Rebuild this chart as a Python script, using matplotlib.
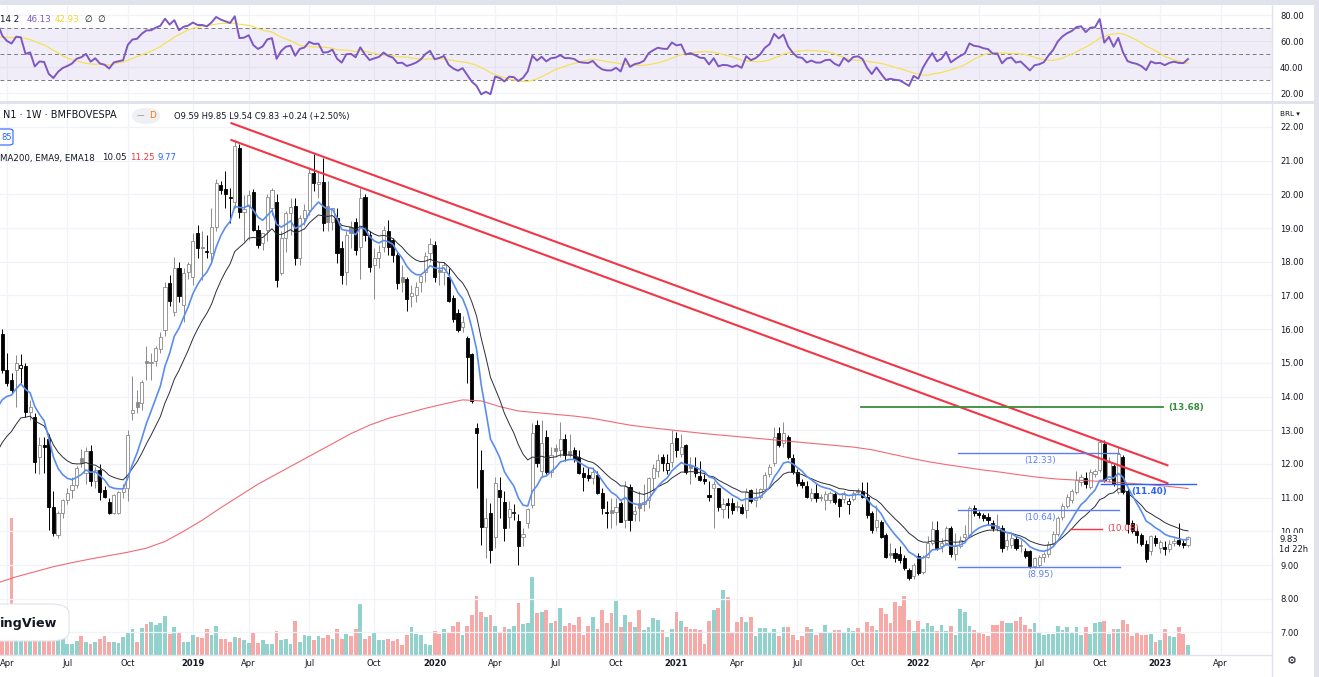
import matplotlib
matplotlib.use("Agg")
import matplotlib.pyplot as plt
import matplotlib.dates as mdates
from matplotlib.patches import Rectangle, FancyBboxPatch
import numpy as np
import pandas as pd

plt.rcParams["font.family"] = ["DejaVu Sans"]

W, H = 1319, 677

# ---- data (weekly bars) ----
first_week = "2018-03-19"
prior_close = 14.9

opens = [
    14.9, 15.85, 14.8, 14.5, 14.8, 14.85, 14.9, 13.55, 13.4, 12.22,
    12.56, 12.75, 10.73, 9.9, 10.54, 10.93, 11.23, 11.38, 12.17, 11.72,
    12.37, 11.48, 11.82, 11.23, 10.88, 10.54, 10.54, 11.18, 11.28, 13.5,
    13.85, 13.8, 15.05, 15.0, 15.04, 15.4, 15.98, 17.36, 16.52, 17.81,
    16.72, 17.7, 17.56, 18.85, 18.42, 18.32, 18.25, 19.04, 20.28, 20.15,
    19.92, 19.78, 21.37, 19.49, 19.64, 20.08, 18.94, 18.55, 18.94, 19.6,
    19.78, 17.66, 18.7, 19.44, 19.64, 18.1, 19.29, 19.54, 20.62, 20.3,
    20.38, 19.64, 19.19, 19.29, 18.4, 17.7, 19.04, 19.19, 18.45, 19.93,
    18.8, 17.9, 18.1, 18.45, 18.9, 18.65, 18.2, 17.56, 17.5, 16.98,
    17.0, 17.41, 17.7, 18.25, 18.5, 17.75, 17.7, 17.56, 16.92, 16.47,
    16.07, 15.73, 15.25, 13.08, 11.82, 10.14, 10.54, 9.84, 11.23, 10.88,
    10.42, 10.55, 10.32, 9.82, 10.24, 10.78, 13.16, 11.79, 12.79, 11.77,
    12.46, 12.42, 12.73, 12.37, 12.42, 12.22, 11.72, 11.67, 11.57, 11.67,
    11.13, 10.55, 10.63, 10.58, 10.83, 10.34, 11.31, 10.51, 10.83, 10.81,
    10.93, 11.57, 11.8, 12.22, 11.82, 12.07, 12.76, 12.3, 12.56, 11.97,
    11.92, 11.64, 11.55, 11.08, 11.28, 11.28, 10.65, 10.83, 10.83, 10.74,
    10.72, 10.63, 11.24, 10.93, 11.03, 11.25, 11.7, 12.02, 12.91, 12.61,
    12.81, 12.17, 11.77, 11.46, 11.35, 10.98, 11.13, 11.03, 10.93, 10.93,
    11.11, 10.95, 10.95, 10.81, 10.95, 11.21, 11.21, 11.03, 10.54, 10.14,
    10.29, 9.89, 9.35, 9.35, 9.33, 9.2, 8.86, 8.66, 9.27, 8.78,
    9.25, 9.65, 10.04, 9.55, 9.65, 10.09, 9.33, 9.55, 9.84, 9.89,
    10.68, 10.53, 10.49, 10.42, 10.24, 10.16, 10.09, 9.55, 9.6, 9.76,
    9.6, 9.42, 9.42, 8.97, 9.0, 9.23, 9.33, 9.63, 9.91, 10.43,
    10.76, 10.93, 11.16, 11.46, 11.59, 11.31, 11.7, 11.81, 12.6, 11.56,
    11.93, 11.16, 12.2, 11.21, 10.26, 10.01, 9.89, 9.63, 9.41, 9.81,
    9.51, 9.54, 9.47, 9.66, 9.73, 9.64, 9.59,
]
highs = [
    15.95, 16.0, 15.3, 14.7, 15.23, 15.25, 15.0, 13.9, 13.5, 12.8,
    12.8, 12.9, 11.2, 10.6, 10.95, 11.3, 11.6, 11.93, 12.45, 12.5,
    12.56, 11.9, 12.0, 11.33, 11.0, 11.1, 11.2, 11.4, 13.0, 14.6,
    14.2, 14.5, 15.5, 15.3, 15.5, 15.9, 17.4, 17.6, 18.15, 18.0,
    17.8, 18.0, 18.85, 19.1, 18.9, 18.8, 19.6, 20.45, 20.4, 20.7,
    20.2, 21.61, 21.5, 19.98, 20.13, 20.15, 19.1, 18.85, 20.0, 20.2,
    20.0, 18.9, 19.5, 19.9, 19.9, 19.4, 19.7, 20.8, 21.2, 20.7,
    21.07, 20.4, 19.6, 19.6, 18.6, 18.9, 19.2, 19.3, 20.2, 20.0,
    18.9, 18.4, 18.5, 19.05, 19.25, 18.7, 18.3, 17.9, 17.55, 17.3,
    17.4, 17.6, 18.3, 18.7, 18.6, 18.0, 18.0, 17.8, 17.0, 16.6,
    16.4, 15.8, 15.3, 13.2, 12.4, 11.0, 10.83, 11.6, 11.6, 11.2,
    10.9, 10.8, 10.5, 10.1, 10.7, 13.2, 13.3, 13.3, 13.0, 12.5,
    12.6, 13.25, 12.9, 12.9, 12.5, 12.4, 11.9, 11.9, 11.9, 11.8,
    11.3, 10.9, 11.0, 11.0, 10.9, 11.5, 11.4, 10.75, 11.2, 11.4,
    11.6, 12.0, 12.3, 12.3, 12.3, 13.0, 12.95, 12.9, 12.6, 12.2,
    12.2, 12.1, 11.7, 11.5, 11.5, 11.3, 11.0, 11.0, 11.0, 10.9,
    10.8, 11.3, 11.27, 11.3, 11.3, 11.75, 12.0, 13.1, 13.1, 13.25,
    12.85, 12.3, 11.85, 11.55, 11.5, 11.3, 11.4, 11.1, 11.2, 11.2,
    11.2, 11.0, 11.2, 11.0, 11.2, 11.3, 11.45, 11.45, 10.6, 10.78,
    10.35, 9.95, 9.65, 9.5, 9.55, 9.3, 8.9, 9.05, 9.35, 9.3,
    9.85, 10.3, 10.3, 9.8, 10.15, 10.15, 9.95, 9.85, 10.2, 10.75,
    10.78, 10.6, 10.55, 10.55, 10.35, 10.5, 10.2, 9.95, 9.95, 9.85,
    9.75, 9.5, 9.45, 9.25, 9.3, 9.4, 9.7, 10.0, 10.45, 10.85,
    11.1, 11.25, 11.8, 11.7, 11.75, 11.85, 11.85, 12.72, 12.7, 12.2,
    12.0, 12.5, 12.25, 11.3, 10.35, 10.1, 9.95, 9.75, 9.9, 9.9,
    9.75, 9.7, 9.75, 9.8, 10.25, 9.75, 9.85,
]
lows = [
    14.7, 14.7, 14.3, 14.1, 13.7, 14.4, 13.4, 13.3, 11.72, 11.7,
    11.72, 10.05, 9.85, 9.8, 10.4, 10.8, 11.0, 11.3, 11.9, 11.4,
    11.33, 11.3, 10.93, 11.0, 10.5, 10.5, 10.5, 11.0, 10.9, 13.3,
    13.5, 13.6, 14.5, 14.5, 14.9, 15.3, 15.8, 16.7, 16.4, 16.8,
    16.2, 17.5, 17.3, 18.1, 17.45, 18.1, 18.0, 18.9, 20.0, 19.6,
    19.15, 19.6, 19.3, 18.6, 18.65, 18.9, 18.4, 18.35, 18.6, 19.4,
    17.25, 17.6, 18.3, 18.8, 17.9, 17.9, 19.1, 19.4, 20.1, 19.9,
    18.9, 18.9, 18.95, 17.95, 17.35, 17.3, 18.4, 18.2, 17.5, 18.6,
    17.7, 16.9, 17.8, 18.3, 18.2, 18.0, 17.2, 17.1, 16.55, 16.65,
    16.8, 17.1, 17.4, 18.0, 17.4, 17.3, 17.3, 16.8, 16.2, 15.9,
    15.9, 14.4, 13.8, 11.3, 9.6, 9.2, 9.05, 9.5, 10.4, 9.7,
    10.1, 10.35, 9.0, 9.55, 10.1, 10.7, 11.9, 11.6, 11.7, 11.6,
    12.2, 12.2, 12.1, 12.2, 12.05, 11.7, 11.2, 11.5, 11.4, 11.1,
    10.5, 10.1, 10.1, 10.2, 10.3, 10.1, 10.0, 10.3, 10.3, 10.6,
    10.7, 11.2, 11.6, 11.8, 11.7, 11.9, 12.2, 12.2, 11.7, 11.4,
    11.6, 11.5, 11.4, 10.9, 10.1, 10.6, 10.4, 10.4, 10.5, 10.6,
    10.5, 10.4, 10.83, 10.73, 10.95, 11.2, 11.6, 11.95, 12.5, 12.5,
    12.15, 11.7, 11.35, 11.3, 10.98, 10.9, 10.88, 10.9, 10.63, 10.85,
    10.8, 10.43, 10.85, 10.5, 10.9, 11.1, 10.98, 10.4, 9.95, 10.0,
    9.8, 9.2, 9.2, 9.1, 9.05, 8.85, 8.55, 8.6, 8.7, 8.72,
    9.2, 9.6, 9.45, 9.4, 9.6, 9.25, 9.15, 9.5, 9.75, 9.85,
    10.45, 10.4, 10.3, 10.2, 10.0, 10.0, 9.4, 9.45, 9.5, 9.45,
    9.4, 9.2, 8.92, 8.92, 8.95, 9.1, 9.25, 9.55, 9.85, 10.35,
    10.7, 10.85, 11.1, 11.35, 11.3, 11.25, 11.6, 11.75, 11.45, 11.45,
    11.35, 11.1, 11.1, 9.96, 9.95, 9.65, 9.55, 9.08, 9.3, 9.55,
    9.35, 9.3, 9.4, 9.55, 9.55, 9.5, 9.54,
]
closes = [
    15.6, 14.8, 14.4, 14.2, 15.0, 14.95, 13.55, 13.7, 12.07, 12.56,
    12.5, 10.73, 9.94, 10.54, 10.93, 11.13, 11.38, 11.87, 12.02, 12.37,
    11.48, 11.82, 11.18, 11.03, 10.54, 11.08, 11.18, 11.28, 12.86, 13.6,
    13.7, 14.44, 15.0, 15.02, 15.45, 15.78, 17.26, 16.82, 17.81, 16.97,
    17.66, 17.92, 18.6, 18.4, 18.4, 18.3, 19.04, 20.33, 20.13, 20.01,
    19.9, 21.42, 19.49, 19.56, 19.98, 18.94, 18.5, 18.85, 19.93, 20.13,
    17.46, 18.7, 19.44, 19.62, 18.1, 19.29, 19.54, 20.62, 20.33, 20.38,
    19.14, 19.19, 19.58, 18.25, 17.6, 18.8, 18.85, 18.35, 19.88, 18.8,
    17.85, 18.1, 18.3, 18.94, 18.45, 18.2, 17.36, 17.41, 16.9, 17.06,
    17.26, 17.58, 18.17, 18.53, 17.56, 17.7, 17.9, 16.82, 16.3, 15.98,
    16.2, 15.18, 13.88, 12.93, 10.14, 10.39, 9.45, 11.43, 11.03, 10.09,
    10.66, 10.56, 9.55, 9.92, 10.66, 12.93, 12.02, 12.63, 11.77, 12.27,
    12.37, 12.73, 12.27, 12.27, 12.14, 11.72, 11.62, 11.57, 11.77, 11.13,
    10.68, 10.53, 10.53, 10.73, 10.29, 11.35, 10.34, 10.59, 10.68, 10.88,
    11.57, 11.87, 12.12, 12.04, 12.02, 12.63, 12.42, 12.51, 11.77, 11.87,
    11.72, 11.53, 11.5, 11.01, 11.4, 10.72, 10.81, 10.78, 10.64, 10.73,
    10.54, 11.18, 10.91, 11.03, 11.25, 11.67, 11.92, 12.81, 12.56, 12.93,
    12.22, 11.77, 11.43, 11.38, 11.01, 11.13, 10.98, 10.98, 11.11, 11.13,
    10.88, 10.75, 11.13, 10.9, 11.13, 11.17, 11.03, 10.49, 10.04, 10.34,
    9.84, 9.25, 9.3, 9.2, 9.15, 8.9, 8.61, 9.0, 8.76, 9.25,
    9.66, 10.06, 9.5, 9.66, 10.09, 9.33, 9.55, 9.75, 9.91, 10.68,
    10.53, 10.49, 10.39, 10.34, 10.09, 10.09, 9.5, 9.75, 9.81, 9.5,
    9.55, 9.27, 8.97, 9.2, 9.24, 9.33, 9.63, 9.91, 10.41, 10.76,
    11.01, 11.19, 11.53, 11.61, 11.39, 11.76, 11.79, 12.65, 11.51, 12.05,
    11.41, 12.3, 11.16, 10.21, 10.01, 9.89, 9.63, 9.17, 9.86, 9.66,
    9.69, 9.47, 9.63, 9.71, 9.61, 9.59, 9.83,
]
volumes = [
    28, 26, 30, 137, 30, 26, 32, 34, 28, 26, 38, 36, 28, 24,
    16, 11, 11, 14, 19, 13, 11, 13, 16, 19, 13, 13, 12, 18, 23, 26,
    13, 27, 31, 33, 30, 32, 39, 21, 28, 22, 13, 13, 20, 18, 17, 26,
    20, 29, 16, 16, 13, 18, 17, 15, 12, 23, 12, 15, 11, 11, 24, 15,
    16, 11, 34, 13, 20, 19, 15, 19, 17, 20, 16, 26, 16, 21, 19, 26,
    51, 16, 19, 22, 15, 15, 16, 14, 16, 10, 20, 28, 21, 20, 11, 10,
    24, 21, 26, 23, 29, 33, 20, 29, 40, 59, 43, 38, 40, 29, 23, 28,
    26, 29, 52, 31, 32, 78, 42, 43, 45, 32, 34, 47, 29, 32, 30, 38,
    20, 29, 38, 26, 45, 32, 42, 54, 28, 40, 33, 28, 45, 25, 28, 37, 35,
    25, 18, 26, 43, 34, 28, 26, 26, 25, 11, 34, 45, 47, 65, 58, 22,
    33, 38, 33, 38, 19, 27, 27, 23, 26, 19, 28, 28, 20, 15, 19, 28,
    26, 20, 22, 30, 23, 25, 25, 22, 27, 24, 27, 22, 33, 29, 25, 47,
    41, 32, 53, 49, 59, 35, 24, 34, 26, 32, 29, 24, 30, 24, 29, 20,
    46, 43, 29, 25, 23, 21, 19, 30, 30, 34, 32, 32, 34, 38, 30, 26,
    32, 23, 20, 21, 21, 29, 25, 28, 23, 28, 20, 28, 21, 32, 33, 34,
    21, 26, 26, 35, 31, 19, 22, 20, 20, 21, 13, 15, 26, 19, 18, 28,
    21, 10,
]

# indicator state just before the first visible bar
ema9_seed = 13.2
ema18_seed = 12.0
rsi_seed_gain = 0.28
rsi_seed_loss = 0.12
rsi_ma_seed = 62.0

# 200-week SMA, sampled every 4 bars
ma200_bars = list(range(0, 257, 4))
ma200_vals = [
    8.47, 8.65, 8.8, 8.95, 9.07, 9.18, 9.28, 9.38, 9.5, 9.7,
    10.0, 10.33, 10.7, 11.05, 11.4, 11.7, 12.0, 12.3, 12.6, 12.9,
    13.15, 13.35, 13.5, 13.65, 13.78, 13.9, 13.87, 13.7, 13.57, 13.52,
    13.47, 13.42, 13.35, 13.25, 13.15, 13.08, 13.02, 12.96, 12.9, 12.85,
    12.8, 12.75, 12.7, 12.65, 12.6, 12.55, 12.5, 12.42, 12.3, 12.18,
    12.07, 11.98, 11.9, 11.82, 11.75, 11.67, 11.6, 11.55, 11.52, 11.49,
    11.46, 11.42, 11.38, 11.33, 11.27,
]

# drawings
trend_start = ["2019-03-06", "2019-03-06"]
trend_end = ["2023-01-13", "2023-01-13"]
trend_p0 = [22.11, 21.61]
trend_p1 = [11.96, 11.43]

level_price = [13.68, 12.33, 10.64, 8.95, 11.40, 10.08]
level_start = ["2021-10-08", "2022-03-04", "2022-03-04", "2022-03-04", "2022-10-05", "2022-08-20"]
level_end = ["2023-01-06", "2022-11-01", "2022-11-01", "2022-11-03", "2023-02-25", "2022-10-07"]
level_color = ["#388e3c", "#5b7ff2", "#5b7ff2", "#5b7ff2", "#2962ff", "#f23645"]
level_label_at = ["2023-01-14", "2022-07-06", "2022-07-06", "2022-07-06", "2022-12-17", "2022-11-07"]

# ---- derived series ----
dates = pd.date_range(first_week, periods=len(closes), freq="W-MON")
x = mdates.date2num(dates)
o, h, l, c = map(np.asarray, (opens, highs, lows, closes))

ema9 = pd.Series([ema9_seed] + closes).ewm(span=9, adjust=False).mean().to_numpy()[1:]
ema18 = pd.Series([ema18_seed] + closes).ewm(span=18, adjust=False).mean().to_numpy()[1:]

chg = np.diff(np.r_[prior_close, c])
up = pd.Series(np.r_[rsi_seed_gain, np.clip(chg, 0, None)]).ewm(alpha=1 / 14, adjust=False).mean().to_numpy()[1:]
dn = pd.Series(np.r_[rsi_seed_loss, np.clip(-chg, 0, None)]).ewm(alpha=1 / 14, adjust=False).mean().to_numpy()[1:]
rsi = 100 - 100 / (1 + up / dn)
rsi_ma = pd.Series(np.r_[[rsi_ma_seed] * 13, rsi]).rolling(14).mean().to_numpy()[13:]

# ---- layout ----
fig = plt.figure(figsize=(W / 100, H / 100), dpi=100)
fig.patch.set_facecolor("white")


def frect(x0, y0, x1, y1):
    return [x0 / W, 1 - y1 / H, (x1 - x0) / W, (y1 - y0) / H]


def ftext(px, py, s, **kw):
    kw.setdefault("va", "center")
    kw.setdefault("color", "#131722")
    kw.setdefault("fontsize", 6)
    return fig.text(px / W, 1 - py / H, s, **kw)


ax_rsi = fig.add_axes(frect(0, 5, 1272, 101))
ax_vol = fig.add_axes(frect(0, 104, 1272, 655), sharex=ax_rsi)
ax = fig.add_axes(frect(0, 104, 1272, 655), sharex=ax_rsi)
ax_vol.set_zorder(1)
ax.set_zorder(2)
ax.patch.set_visible(False)

px_days = 7 / 4.65
x_last = x[-1]
ax.set_xlim(x_last - 1188 * px_days, x_last + (1272 - 1188) * px_days)
ax.set_ylim(6.33, 22.68)
ax_rsi.set_ylim(13.85, 87.7)
ax_vol.set_ylim(0, 551)

all_weeks = pd.date_range(first_week, "2023-06-30", freq="W-MON")
tick_dates = [d for k, d in enumerate(all_weeks)
              if d.month in (1, 4, 7, 10) and k > 0 and all_weeks[k - 1].month != d.month]
tick_x = mdates.date2num(tick_dates)
tick_lbl = [str(d.year) if d.month == 1 else d.strftime("%b") for d in tick_dates]

grid_c = "#f0f3fa"
for a in (ax_rsi, ax_vol, ax):
    for s in a.spines.values():
        s.set_visible(False)
for tx in tick_x:
    ax_vol.axvline(tx, color=grid_c, lw=0.9, zorder=0)
    ax_rsi.axvline(tx, color=grid_c, lw=0.9, zorder=0)
for p in range(7, 23):
    ax.axhline(p, color=grid_c, lw=0.9, zorder=0)

ax_vol.set_yticks([])
ax_vol.tick_params(axis="x", length=0, labelbottom=False)

ax.set_xticks(tick_x)
ax.set_xticklabels(tick_lbl)
ax.tick_params(axis="x", length=0, pad=3, labelsize=6, labelcolor="#131722")
for t, d in zip(ax.get_xticklabels(), tick_dates):
    if d.month == 1:
        t.set_fontweight("bold")
ax.yaxis.tick_right()
ax.set_yticks(range(7, 23))
ax.set_yticklabels([f"{v:.2f}" for v in range(7, 23)])
ax.tick_params(axis="y", length=0, pad=5.8, labelsize=6, labelcolor="#131722")

ax_rsi.tick_params(axis="x", length=0, labelbottom=False)
ax_rsi.yaxis.tick_right()
ax_rsi.set_yticks([20, 40, 60, 80])
ax_rsi.set_yticklabels(["20.00", "40.00", "60.00", "80.00"])
ax_rsi.tick_params(axis="y", length=0, pad=5.8, labelsize=6, labelcolor="#131722")
for v in (20, 40, 60, 80):
    ax_rsi.axhline(v, color=grid_c, lw=0.9, zorder=0)

# ---- RSI pane ----
ax_rsi.axhspan(30, 70, color="#7e57c2", alpha=0.1, lw=0, zorder=1)
for v in (30, 50, 70):
    ax_rsi.axhline(v, color="#787b86", lw=0.7, dashes=(4, 3), zorder=2)
ax_rsi.plot(x, rsi_ma, color="#f5e15a", lw=0.9, zorder=3)
ax_rsi.plot(x, rsi, color="#7e57c2", lw=1.4, zorder=4)

# ---- volume ----
vol_col = np.where(c >= o, "#92d2cc", "#f7a9a8")
ax_vol.bar(x, volumes, width=5.6, color=vol_col, lw=0, zorder=2)

# ---- candles ----
prev = np.r_[prior_close, c[:-1]]
edge = np.where(c < prev, "#000000", "#8a8a8a")
face = np.where(c < o, edge, "#ffffff")
ax.vlines(x, l, h, colors=edge, lw=0.7, zorder=3)
ax.bar(x, np.maximum(np.abs(c - o), 0.03), bottom=np.minimum(o, c), width=4.8,
       color=face, edgecolor=edge, linewidth=0.6, zorder=4)

# ---- moving averages ----
ax.plot(x[ma200_bars], ma200_vals, color="#f05a66", lw=0.8, alpha=0.9, zorder=5)
ax.plot(x, ema18, color="#2a2e39", lw=0.7, zorder=5)
ax.plot(x, ema9, color="#5b8def", lw=1.2, zorder=5)

# ---- drawings ----
for s0, s1, p0, p1 in zip(trend_start, trend_end, trend_p0, trend_p1):
    ax.plot(mdates.date2num(pd.to_datetime([s0, s1])), [p0, p1], color="#f23645", lw=1.5, zorder=6)

for k, (p, s0, s1, col, la) in enumerate(zip(level_price, level_start, level_end, level_color, level_label_at)):
    xs = mdates.date2num(pd.to_datetime([s0, s1]))
    lw = 1.3 if k == 0 else 1.0
    ax.plot(xs, [p, p], color=col, lw=lw, zorder=6)
    xl = mdates.date2num(pd.Timestamp(la))
    lab = f"({p:.2f})"
    if k == 0:
        ax.annotate(lab, (xl, p), ha="left", va="center", fontsize=6.3, color=col,
                    fontweight="bold", zorder=7)
    elif k == 5:
        ax.annotate(lab, (xl, p), ha="center", va="center", fontsize=6.3, color=col, zorder=7)
    else:
        ax.annotate(lab, (xl, p), xytext=(0, -5.5), textcoords="offset points",
                    ha="center", va="center", fontsize=6.3, color=col,
                    fontweight="bold" if k == 4 else "normal", zorder=7)

# ---- frame bands ----
band = "#e0e3eb"
for r in ((0, 0, 1319, 5), (0, 101, 1319, 104), (1314, 0, 1319, 677)):
    fig.add_artist(Rectangle((r[0] / W, 1 - r[3] / H), (r[2] - r[0]) / W, (r[3] - r[1]) / H,
                             transform=fig.transFigure, color=band, lw=0, zorder=8))
fig.add_artist(plt.Line2D([1272 / W, 1272 / W], [0, 1 - 5 / H], transform=fig.transFigure,
                          color=band, lw=1, zorder=8))
fig.add_artist(plt.Line2D([0, 1272 / W], [1 - 655 / H, 1 - 655 / H], transform=fig.transFigure,
                          color=band, lw=1, zorder=8))

# ---- texts ----
ftext(0, 19, "14 2", fontsize=6.3)
ftext(27, 19, "46.13", color="#7e57c2", fontsize=6.3)
ftext(55, 19, "42.93", color="#f0d530", fontsize=6.3)
ftext(85, 19, "\u2205  \u2205", fontsize=6.3)

ftext(3, 115, "N1 \u00b7 1W \u00b7 BMFBOVESPA", fontsize=7)
fig.add_artist(FancyBboxPatch((132 / W, 1 - 124 / H), 28 / W, 16 / H,
                              boxstyle="round,pad=0,rounding_size=0.011",
                              transform=fig.transFigure, fc="#eef0f3", ec="none", zorder=8))
ftext(140, 116, "\u2014", color="#9598a1", fontsize=5.5, ha="center", zorder=9)
ftext(153, 116, "D", color="#f57c00", fontsize=6.5, ha="center", zorder=9)
ftext(174, 117, "O9.59 H9.85 L9.54 C9.83 +0.24 (+2.50%)", fontsize=6)

fig.add_artist(FancyBboxPatch((-6 / W, 1 - 145 / H), 19 / W, 16 / H,
                              boxstyle="round,pad=0,rounding_size=0.003",
                              transform=fig.transFigure, fc="white", ec="#2962ff", lw=0.8, zorder=8))
ftext(1, 137, "85", color="#2962ff", fontsize=6, zorder=9)

ftext(0, 158, "MA200, EMA9, EMA18", fontsize=6.2)
ftext(102, 158, "10.05", fontsize=6.2)
ftext(130, 158, "11.25", color="#f23645", fontsize=6.2)
ftext(158, 158, "9.77", color="#2962ff", fontsize=6.2)

# watermark
fig.add_artist(FancyBboxPatch((-30 / W, 1 - 641 / H), 99 / W, 37 / H,
                              boxstyle="round,pad=0,rounding_size=0.014",
                              transform=fig.transFigure, fc="white", ec="#e0e3eb", lw=0.8, zorder=8))
ftext(57, 623, "ingView", fontsize=9.2, fontweight="bold", ha="right", zorder=9)

# price scale extras
ftext(1280, 114, "BRL \u25be", fontsize=5.2, zorder=9)
fig.add_artist(Rectangle((1273 / W, 1 - 556 / H), 40 / W, 23 / H, transform=fig.transFigure,
                         fc="white", ec="none", zorder=9))
ftext(1279, 539, "9.83", fontsize=6, zorder=10)
ftext(1279, 549, "1d 22h", fontsize=6, zorder=10)
ftext(1292, 661, "\u2699", fontsize=8, ha="center", zorder=10)

fig.savefig("out.png", dpi=100)
